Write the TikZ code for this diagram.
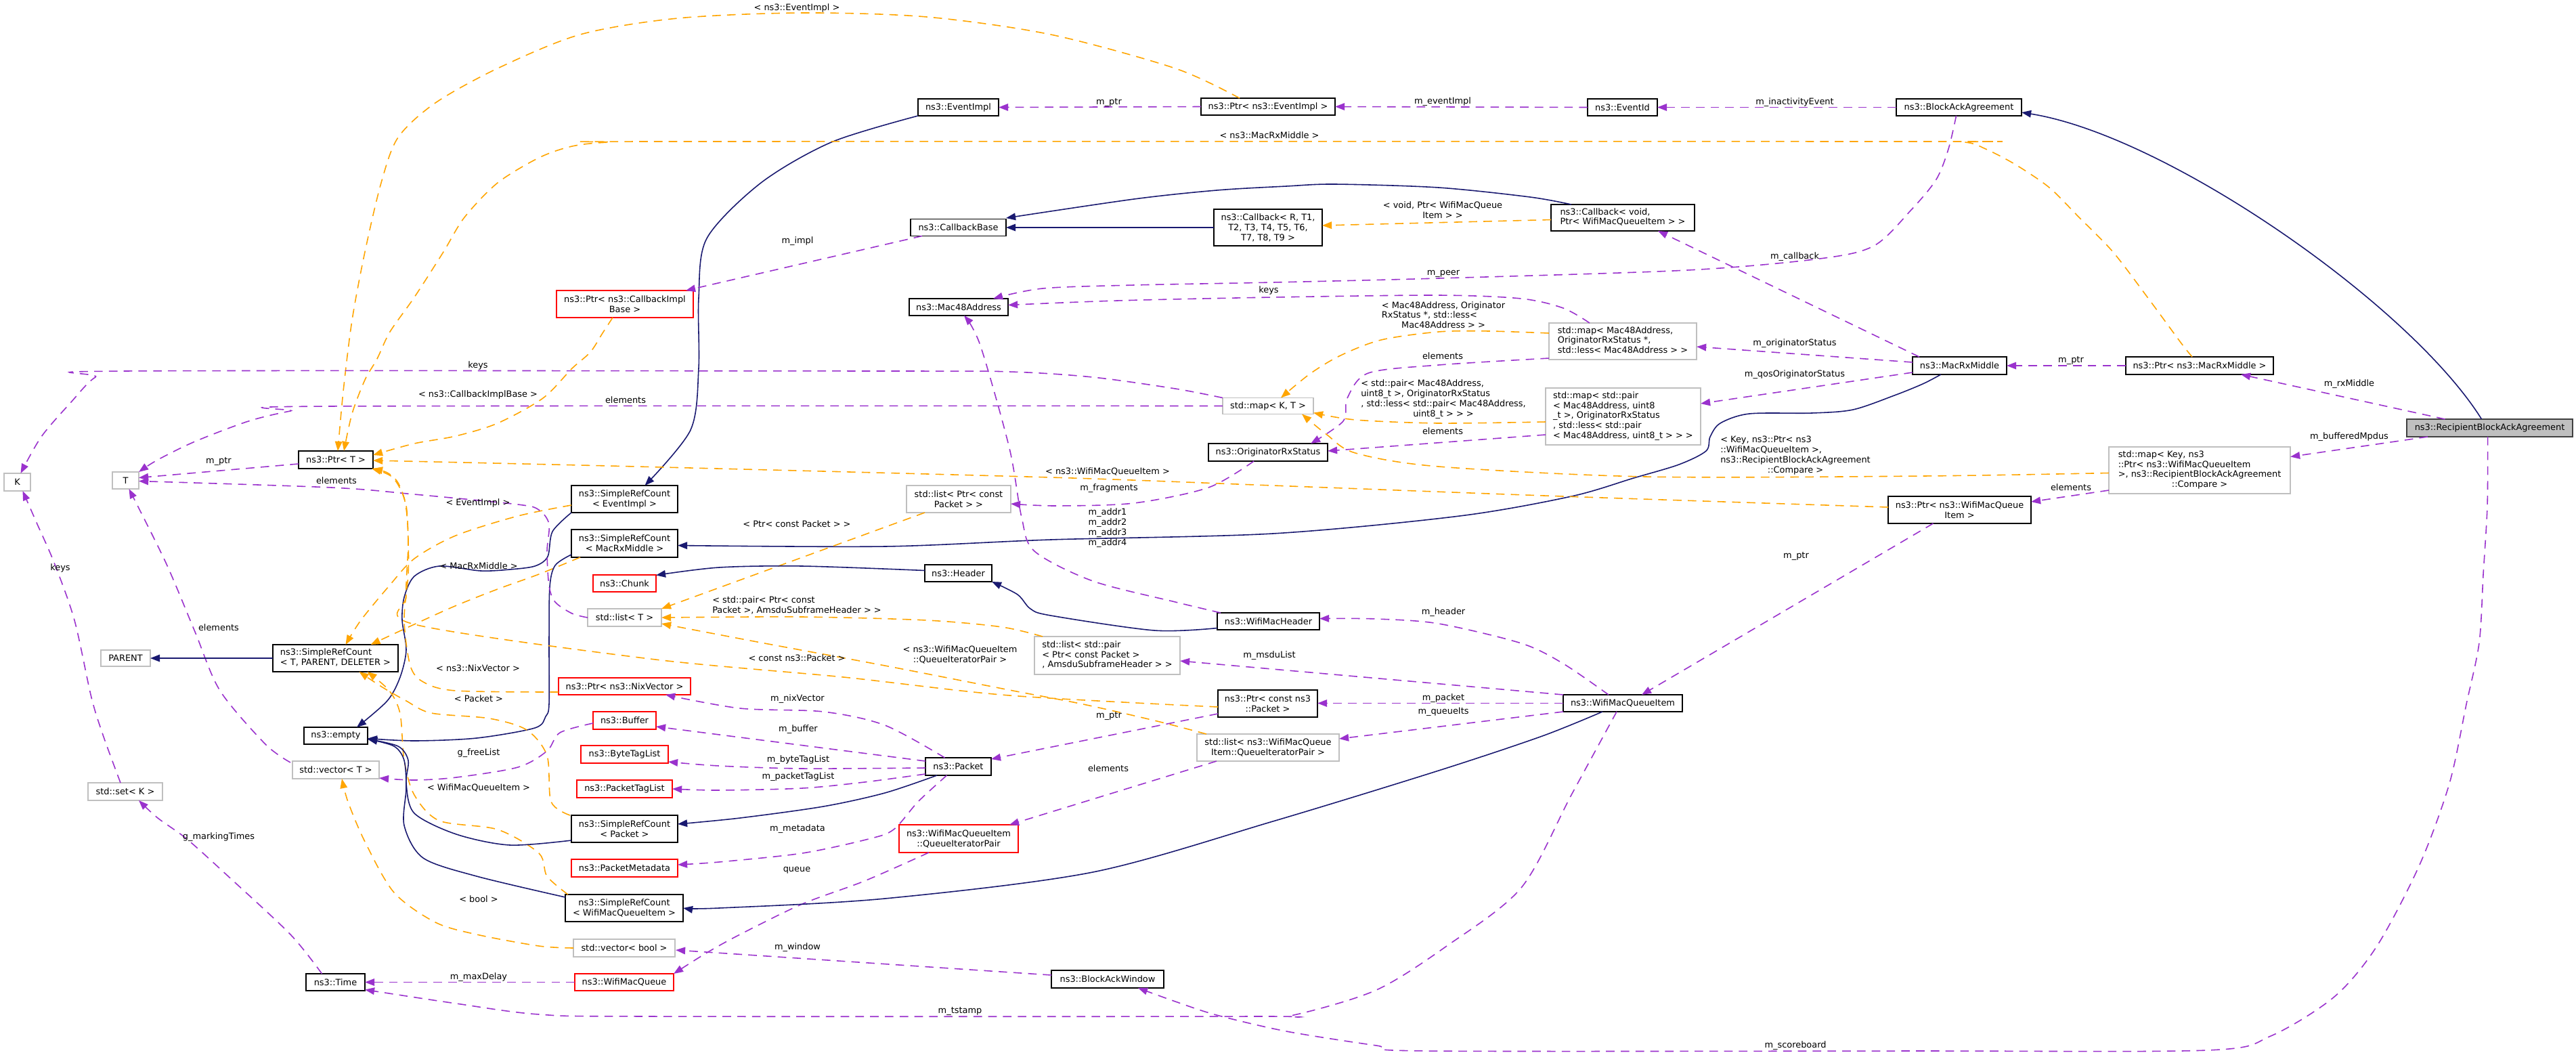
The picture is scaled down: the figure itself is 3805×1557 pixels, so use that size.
\documentclass[tikz,border=0pt]{standalone}
\usepackage{fontspec}
\setmainfont{DejaVu Sans}
\usetikzlibrary{arrows.meta,calc}
\definecolor{inhc}{HTML}{191970}
\definecolor{usec}{HTML}{9A32CD}
\definecolor{tplc}{HTML}{FFA500}
\definecolor{grayb}{HTML}{BFBFBF}
\definecolor{darkb}{HTML}{404040}
\definecolor{redb}{HTML}{FF0000}
\newcommand\ml[2]{\begin{tabular}{@{}l@{}}#1\\\multicolumn{1}{@{}c@{}}{#2}\end{tabular}}
\begin{document}
\begin{tikzpicture}[x=0.01cm,y=-0.01cm,font=\fontsize{3.67pt}{4.25pt}\selectfont,
  box/.style={draw,line width=0.5pt,inner sep=0pt,outer sep=0pt,fill=white,align=center},
  bk/.style={box,draw=black},
  rd/.style={box,draw=redb},
  gy/.style={box,draw=grayb},
  lab/.style={inner sep=0pt,align=center},
  edge/.style={line width=0.45pt,-{Triangle[length=4pt,width=3pt]}},
  inh/.style={edge,draw=inhc},
  use/.style={edge,draw=usec,dash pattern=on 3.6pt off 2.6pt},
  tpl/.style={edge,draw=tplc,dash pattern=on 3.6pt off 2.6pt}]
\fill[white] (0,0) rectangle (3805,1557);
\useasboundingbox (0,0) rectangle (3805,1557);
% ---------- nodes ----------
\node[bk,minimum width=1.19cm,minimum height=0.25cm] (eventimpl) at (1415.5,158.5) {ns3::EventImpl};
\node[bk,minimum width=1.98cm,minimum height=0.25cm] (ptrevent) at (1873,157.5) {ns3::Ptr< ns3::EventImpl >};
\node[bk,minimum width=1.03cm,minimum height=0.25cm] (eventid) at (2396.5,158.5) {ns3::EventId};
\node[bk,minimum width=1.85cm,minimum height=0.25cm] (baa) at (2893.5,158.5) {ns3::BlockAckAgreement};
\node[bk,minimum width=1.41cm,minimum height=0.25cm] (callbackbase) at (1415.5,336) {ns3::CallbackBase};
\node[bk,minimum width=1.60cm,minimum height=0.54cm] (callbackR) at (1873,336) {ns3::Callback< R, T1,\\T2, T3, T4, T5, T6,\\T7, T8, T9 >};
\node[bk,minimum width=2.12cm,minimum height=0.39cm] (callbackvoid) at (2397,321.5) {\ml{ns3::Callback< void,}{ Ptr< WifiMacQueueItem > >}};
\node[rd,minimum width=2.02cm,minimum height=0.40cm] (cbimplptr) at (923,449) {ns3::Ptr< ns3::CallbackImpl\\Base >};
\node[bk,minimum width=1.46cm,minimum height=0.25cm] (mac48) at (1416,453.5) {ns3::Mac48Address};
\node[gy,minimum width=2.18cm,minimum height=0.54cm] (mapmac) at (2397,504) {\ml{std::map< Mac48Address,\\ OriginatorRxStatus *,}{ std::less< Mac48Address > >}};
\node[bk,minimum width=1.39cm,minimum height=0.26cm] (macrx) at (2894.5,540) {ns3::MacRxMiddle};
\node[bk,minimum width=2.18cm,minimum height=0.26cm] (ptrmacrx) at (3249,540) {ns3::Ptr< ns3::MacRxMiddle >};
\node[box,draw=darkb,fill=grayb,minimum width=2.45cm,minimum height=0.26cm] (rbaa) at (3677.5,632) {ns3::RecipientBlockAckAgreement};
\node[gy,minimum width=1.34cm,minimum height=0.24cm] (mapkt) at (1873,599.5) {std::map< K, T >};
\node[gy,minimum width=2.29cm,minimum height=0.84cm] (mappair) at (2397.5,615) {\ml{std::map< std::pair\\< Mac48Address, uint8\\\_t >, OriginatorRxStatus\\ *, std::less< std::pair}{< Mac48Address, uint8\_t > > >}};
\node[bk,minimum width=1.76cm,minimum height=0.26cm] (orsx) at (1873,668) {ns3::OriginatorRxStatus};
\node[gy,minimum width=2.68cm,minimum height=0.69cm] (mapkey) at (3249,694.5) {\ml{std::map< Key, ns3\\::Ptr< ns3::WifiMacQueueItem\\ >, ns3::RecipientBlockAckAgreement}{::Compare >}};
\node[bk,minimum width=2.11cm,minimum height=0.40cm] (ptrwmqi) at (2894.5,753) {ns3::Ptr< ns3::WifiMacQueue\\Item >};
\node[bk,minimum width=1.10cm,minimum height=0.26cm] (ptrT) at (496,679) {ns3::Ptr< T >};
\node[gy,minimum width=0.39cm,minimum height=0.26cm] (K) at (25.5,712) {K};
\node[gy,minimum width=0.39cm,minimum height=0.25cm] (T) at (185.5,709.5) {T};
\node[bk,minimum width=1.57cm,minimum height=0.40cm] (srcevent) at (922.5,737) {ns3::SimpleRefCount\\< EventImpl >};
\node[bk,minimum width=1.57cm,minimum height=0.41cm] (srcmacrx) at (922.5,802.5) {ns3::SimpleRefCount\\< MacRxMiddle >};
\node[rd,minimum width=0.93cm,minimum height=0.25cm] (chunk) at (922.5,861.5) {ns3::Chunk};
\node[gy,minimum width=1.09cm,minimum height=0.26cm] (listT) at (922.5,912) {std::list< T >};
\node[gy,minimum width=1.54cm,minimum height=0.40cm] (listptr) at (1416,737) {std::list< Ptr< const\\Packet > >};
\node[bk,minimum width=0.99cm,minimum height=0.25cm] (header) at (1415.5,846.5) {ns3::Header};
\node[bk,minimum width=1.51cm,minimum height=0.25cm] (wmh) at (1873.5,917.5) {ns3::WifiMacHeader};
\node[gy,minimum width=2.15cm,minimum height=0.56cm] (listpair) at (1635.5,968) {\ml{std::list< std::pair\\< Ptr< const Packet >}{, AmsduSubframeHeader > >}};
\node[bk,minimum width=1.47cm,minimum height=0.40cm] (ptrcpkt) at (1872.5,1039) {ns3::Ptr< const ns3\\::Packet >};
\node[bk,minimum width=1.76cm,minimum height=0.25cm] (wmqi) at (2397,1038.5) {ns3::WifiMacQueueItem};
\node[bk,minimum width=1.85cm,minimum height=0.40cm] (srcTPD) at (495.5,972) {\ml{ns3::SimpleRefCount}{< T, PARENT, DELETER >}};
\node[gy,minimum width=0.73cm,minimum height=0.24cm] (parent) at (185.5,972) {PARENT};
\node[rd,minimum width=1.95cm,minimum height=0.25cm] (ptrnix) at (922.5,1013.5) {ns3::Ptr< ns3::NixVector >};
\node[bk,minimum width=0.94cm,minimum height=0.25cm] (empty) at (496,1086.5) {ns3::empty};
\node[gy,minimum width=1.28cm,minimum height=0.26cm] (vecT) at (496,1137) {std::vector< T >};
\node[gy,minimum width=1.10cm,minimum height=0.26cm] (setK) at (185,1169) {std::set< K >};
\node[rd,minimum width=0.93cm,minimum height=0.26cm] (buffer) at (922.5,1064) {ns3::Buffer};
\node[rd,minimum width=1.29cm,minimum height=0.26cm] (bytetag) at (922.5,1114) {ns3::ByteTagList};
\node[rd,minimum width=1.41cm,minimum height=0.26cm] (pkttag) at (922.5,1165) {ns3::PacketTagList};
\node[bk,minimum width=1.57cm,minimum height=0.40cm] (srcpkt) at (922.5,1224) {ns3::SimpleRefCount\\< Packet >};
\node[rd,minimum width=1.57cm,minimum height=0.26cm] (pktmeta) at (922.5,1282) {ns3::PacketMetadata};
\node[bk,minimum width=1.74cm,minimum height=0.40cm] (srcwmqi) at (922,1341) {ns3::SimpleRefCount\\< WifiMacQueueItem >};
\node[gy,minimum width=1.50cm,minimum height=0.26cm] (vecbool) at (922,1400) {std::vector< bool >};
\node[bk,minimum width=0.87cm,minimum height=0.25cm] (time) at (495.5,1450.5) {ns3::Time};
\node[rd,minimum width=1.46cm,minimum height=0.25cm] (wmq) at (922,1450.5) {ns3::WifiMacQueue};
\node[bk,minimum width=0.97cm,minimum height=0.26cm] (packet) at (1415.5,1132) {ns3::Packet};
\node[gy,minimum width=2.10cm,minimum height=0.40cm] (listqip) at (1873,1104) {std::list< ns3::WifiMacQueue\\Item::QueueIteratorPair >};
\node[rd,minimum width=1.76cm,minimum height=0.41cm] (qip) at (1416,1238.5) {ns3::WifiMacQueueItem\\::QueueIteratorPair};
\node[bk,minimum width=1.66cm,minimum height=0.26cm] (baw) at (1636,1446) {ns3::BlockAckWindow};
% ---------- edge end points ----------
\coordinate (s5) at ($(ptrevent.north)+(-42,0)$); \coordinate (t5) at ($(ptrT.north)+(3,0)$);
\coordinate (s6) at (eventimpl.south west); \coordinate (t6) at ($(srcevent.north)+(30,0)$);
\coordinate (s7) at ($(srcevent.west)+(0,9)$); \coordinate (t7) at ($(srcTPD.north)+(15,0)$);
\coordinate (s8) at (srcevent.south west); \coordinate (t8) at ($(empty.north)+(31,0)$);
\coordinate (s9) at ($(srcmacrx.south west)+(13,0)$); \coordinate (t9) at ($(srcTPD.north)+(52,0)$);
\coordinate (s10) at ($(srcmacrx.south west)+(0,-4)$); \coordinate (t10) at ($(empty.east)+(0,4)$);
\coordinate (s11) at ($(macrx.south west)+(42,0)$); \coordinate (t11) at ($(srcmacrx.east)+(0,3)$);
\coordinate (s19) at ($(ptrmacrx.north)+(-11,0)$); \coordinate (t19) at ($(ptrT.north)+(12,0)$);
\coordinate (s20) at ($(cbimplptr.south)+(-18,0)$); \coordinate (t20) at ($(ptrT.east)+(0,-7)$);
\coordinate (s23) at ($(callbackvoid.north west)+(30,0)$); \coordinate (t23) at ($(callbackbase.east)+(0,-14)$);
\coordinate (s25) at ($(mapmac.north)+(-49,0)$); \coordinate (t25) at ($(mac48.east)+(0,-3)$);
\coordinate (s26) at ($(baa.south)+(-4,0)$); \coordinate (t26) at ($(mac48.north east)+(-22,0)$);
\coordinate (s27) at ($(mapmac.west)+(0,-12)$); \coordinate (t27) at ($(mapkt.north)+(19,0)$);
\coordinate (s28) at ($(mapmac.south west)+(0,-2)$); \coordinate (t28) at ($(orsx.north east)+(-25,0)$);
\coordinate (s29) at ($(mappair.west)+(0,8)$); \coordinate (t29) at ($(mapkt.east)+(0,10)$);
\coordinate (t31) at ($(K.north)+(5,0)$);
\coordinate (t34) at ($(T.east)+(0,1)$);
\coordinate (s35) at ($(vecT.north west)+(-3,2)$); \coordinate (t35) at ($(T.south)+(5,0)$);
\coordinate (s36) at ($(setK.north)+(-7,0)$); \coordinate (t36) at ($(K.south)+(8,0)$);
\coordinate (s38) at ($(time.north)+(-20,0)$); \coordinate (t38) at ($(setK.south)+(20,0)$);
\coordinate (s39) at ($(srcpkt.north west)+(-2,0)$); \coordinate (t39) at ($(srcTPD.south)+(35,0)$);
\coordinate (s40) at ($(srcwmqi.north west)+(4,0)$); \coordinate (t40) at ($(srcTPD.south)+(47,0)$);
\coordinate (s41) at ($(srcpkt.south west)+(0,-3)$); \coordinate (t41) at ($(empty.east)+(0,5)$);
\coordinate (s42) at ($(srcwmqi.west)+(0,-16)$);
\coordinate (t43) at ($(vecT.south)+(9,0)$);
\coordinate (s44) at ($(ptrnix.west)+(0,8.5)$);
\coordinate (s45) at ($(ptrcpkt.west)+(0,5)$); \coordinate (t45) at ($(ptrT.south east)+(-2,0)$);
\coordinate (s46) at ($(ptrwmqi.west)+(0,-4)$); \coordinate (t46) at ($(ptrT.east)+(0,1)$);
\coordinate (s48) at ($(listpair.north west)+(12,0)$);
\coordinate (s49) at ($(listqip.north west)+(14,0)$); \coordinate (t49) at ($(listT.east)+(0,9)$);
\coordinate (s50) at ($(orsx.south)+(-21,0)$); \coordinate (t50) at ($(listptr.east)+(0,7)$);
\coordinate (s51) at ($(wmh.north west)+(5,0)$); \coordinate (t51) at ($(mac48.south)+(8,0)$);
\coordinate (s52) at ($(wmh.west)+(0,10)$);
\coordinate (s53) at ($(header.west)+(0,-4)$); \coordinate (t53) at ($(chunk.east)+(0,-12)$);
\coordinate (s54) at ($(wmqi.north)+(-21,0)$); \coordinate (t54) at ($(wmh.east)+(0,-4)$);
\coordinate (s61) at ($(packet.north)+(-20,0)$); \coordinate (t61) at ($(ptrnix.south east)+(-37,0)$);
\coordinate (s63) at ($(packet.west)+(0,2)$); \coordinate (t63) at ($(bytetag.east)+(0,11)$);
\coordinate (s64) at ($(packet.west)+(0,11)$);
\coordinate (s65) at ($(packet.south west)+(17,0)$); \coordinate (t65) at ($(srcpkt.east)+(0,-7)$);
\coordinate (s66) at ($(packet.south)+(-17,0)$); \coordinate (t66) at ($(pktmeta.east)+(0,-5)$);
\coordinate (s67) at ($(qip.south)+(-44,0)$);
\coordinate (s68) at ($(wmqi.south)+(-30,0)$);
\coordinate (s69) at ($(wmqi.south)+(-9,0)$); \coordinate (t69) at ($(time.east)+(0,11)$);
\coordinate (s72) at ($(rbaa.south)+(-3,0)$); \coordinate (t72) at ($(baw.south)+(45,0)$);
\coordinate (s73) at ($(mapkey.west)+(0,4)$); \coordinate (t73) at ($(mapkt.south east)+(-17,0)$);
\coordinate (s74) at ($(buffer.west)+(0,4)$); \coordinate (t74) at ($(vecT.east)+(0,12)$);
% ---------- edges ----------
\draw[inh] ($(rbaa.north)+(-12,0)$) .. controls (3560,450) and (3200,200) .. ($(baa.east)+(0,7.5)$);
\draw[use] (baa.west) -- (eventid.east);
\draw[use] (eventid.west) -- (ptrevent.east);
\draw[use] (ptrevent.west) -- (eventimpl.east);
\draw[tpl] plot[smooth] coordinates {(s5) (1736,101) (1552,51) (1369,25) (1185,19) (1001,27) (857,51) (735,101) (643,152) (588,203) (563,270) (539,372) (520,473) (507,578) (t5)};
\draw[inh] plot[smooth] coordinates {(s6) (1228,210) (1124,270) (1044,352) (1032,440) (1032,544) (1020,635) (t6)};
\draw[tpl] plot[smooth] coordinates {(s7) (765,762) (673,791) (612,825) (575,865) (533,916) (t7)};
\draw[inh] plot[smooth] coordinates {(s8) (816,785) (809,822) (790,836) (753,841) (710,843) (649,836) (612,851) (597,882) (594,916) (600,960) (591,1000) (572,1035) (t8)};
\draw[tpl] plot[smooth] coordinates {(s9) (796,848) (735,870) (672,895) (612,922) (t9)};
\draw[inh] plot[smooth] coordinates {(s10) (820,835) (812,867) (811,950) (811,1040) (806,1058) (790,1075) (704,1090) (612,1094) (t10)};
\draw[inh] plot[smooth] coordinates {(s11) (2840,567) (2798,584) (2737,605) (2676,610) (2584,611) (2541,625) (2526,645) (2520,666) (2480,686) (2413,706) (2321,733) (2156,762) (1880,788) (1552,797) (1307,807) (t11)};
\draw[use] ($(macrx.north west)+(10,0)$) -- ($(callbackvoid.south)+(52,0)$);
\draw[use] ($(macrx.west)+(0,-5)$) -- ($(mapmac.east)+(0,8)$);
\draw[use] ($(macrx.west)+(0,10)$) -- ($(mappair.east)+(0,-19)$);
\draw[use] (ptrmacrx.west) -- (macrx.east);
\draw[use] ($(rbaa.north)+(-66,0)$) -- ($(ptrmacrx.south)+(61,0)$);
\draw[use] ($(rbaa.south west)+(31,0)$) -- ($(mapkey.east)+(0,-20)$);
\draw[use] ($(mapkey.west)+(0,29.5)$) -- ($(ptrwmqi.east)+(0,-12)$);
\draw[tpl] plot[smooth] coordinates {(s19) (3222,507) (3172,439) (3121,372) (3071,321) (3027,277) (2977,243) (2933,220) (2902,210) (2820,209) (1000,209) (900,210) (845,216) (796,233) (735,270) (686,321) (655,372) (612,439) (576,490) (557,530) (539,561) (520,611) (t19)};
\draw[tpl] plot[smooth] coordinates {(s20) (890,492) (872,520) (845,544) (802,588) (735,625) (673,644) (612,655) (t20)};
\draw[use] ($(callbackbase.south west)+(17,0)$) -- ($(cbimplptr.north east)+(-11,0)$);
\draw[inh] (callbackR.west) -- (callbackbase.east);
\draw[inh] plot[smooth] coordinates {(s23) (2260,291) (2125,277) (1972,272) (1900,275) (1797,281) (1675,294) (t23)};
\draw[tpl] ($(callbackvoid.west)+(0,3)$) -- ($(callbackR.east)+(0,-3)$);
\draw[use] plot[smooth] coordinates {(s25) (2309,455) (2247,441) (2125,436) (1880,439) (1650,444) (t25)};
\draw[use] plot[smooth] coordinates {(s26) (2878,220) (2860,265) (2823,310) (2768,363) (2688,382) (2492,399) (2125,411) (1880,417) (1675,421) (1540,426) (t26)};
\draw[tpl] plot[smooth] coordinates {(s27) (2200,489) (2125,490) (2040,502) (1980,525) (1935,552) (t27)};
\draw[use] plot[smooth] coordinates {(s28) (2125,539) (2021,551) (1990,588) (1984,622) (t28)};
\draw[tpl] plot[smooth] coordinates {(s29) (2125,625) (2002,620) (t29)};
\draw[use] ($(mappair.west)+(0,27)$) -- ($(orsx.east)+(0,-2)$);
\draw[use] plot[smooth] coordinates {(mapkt.north west) (1736,574) (1614,557) (1491,549) (1307,548) (184,548) (141,557) (104,595) (61,645) (t31)};
\draw[use] plot[smooth] coordinates {(mapkt.west) (484,600) (429,607) (367,622) (288,652) (233,679) (T.north east)};
\draw[use] ($(ptrT.west)+(0,6)$) -- ($(T.east)+(0,-4)$);
\draw[use] plot[smooth] coordinates {(listT.west) (845,906) (820,889) (811,865) (808,814) (811,774) (796,753) (765,745) (612,730) (490,720) (t34)};
\draw[use] plot[smooth] coordinates {(s35) (392,1099) (325,1020) (288,933) (245,831) (t35)};
\draw[use] plot[smooth] coordinates {(s36) (153,1088) (135,1030) (110,916) (80,831) (55,774) (t36)};
\draw[inh] (srcTPD.west) -- (parent.east);
\draw[use] plot[smooth] coordinates {(s38) (429,1380) (337,1294) (276,1239) (233,1208) (t38)};
\draw[tpl] plot[smooth] coordinates {(s39) (814,1184) (808,1116) (778,1078) (723,1061) (637,1053) (600,1035) (565,1015) (t39)};
\draw[tpl] plot[smooth] coordinates {(s40) (808,1294) (796,1260) (735,1225) (649,1212) (612,1174) (597,1123) (591,1054) (575,1020) (t40)};
\draw[inh] plot[smooth] coordinates {(s41) (753,1248) (674,1232) (612,1201) (600,1157) (603,1123) (588,1102) (t41)};
\draw[inh] plot[smooth] coordinates {(s42) (704,1294) (625,1267) (597,1219) (600,1164) (597,1123) (582,1102) (t41)};
\draw[tpl] plot[smooth] coordinates {(vecbool.west) (796,1397) (704,1380) (643,1362) (582,1318) (539,1243) (514,1184) (t43)};
\draw[tpl] plot[smooth] coordinates {(s44) (673,1020) (625,1007) (606,983) (597,916) (603,848) (603,797) (600,747) (588,713) (572,698) (ptrT.south east)};
\draw[tpl] plot[smooth] coordinates {(s45) (1491,1027) (1246,1000) (960,973) (612,922) (600,880) (603,800) (598,740) (580,705) (t45)};
\draw[tpl] plot[smooth] coordinates {(s46) (2309,733) (1880,717) (1552,705) (940,689) (t46)};
\draw[tpl] ($(listptr.south west)+(27,0)$) -- (listT.north east);
\draw[tpl] plot[smooth] coordinates {(s48) (1480,926) (1369,916) (1185,911) (listT.east)};
\draw[tpl] plot[smooth] coordinates {(s49) (1705,1064) (1600,1040) (1491,1019) (1307,983) (1124,949) (t49)};
\draw[use] plot[smooth] coordinates {(s50) (1785,720) (1675,743) (1560,747) (t50)};
\draw[use] plot[smooth] coordinates {(s51) (1736,889) (1614,858) (1528,814) (1509,764) (1491,662) (1448,510) (t51)};
\draw[inh] plot[smooth] coordinates {(s52) (1705,931) (1552,909) (1522,899) (1503,878) (header.south east)};
\draw[inh] plot[smooth] coordinates {(s53) (1185,836) (1062,838) (t53)};
\draw[use] plot[smooth] coordinates {(s54) (2309,980) (2247,950) (2125,921) (2033,914) (t54)};
\draw[use] (wmqi.north west) -- ($(listpair.east)+(0,8)$);
\draw[use] ($(ptrwmqi.south)+(-39,0)$) -- ($(wmqi.north)+(28,0)$);
\draw[use] (wmqi.west) -- ($(ptrcpkt.east)+(0,-0.5)$);
\draw[use] (wmqi.south west) -- ($(listqip.east)+(0,-13)$);
\draw[use] ($(ptrcpkt.south west)+(0,-5)$) -- ($(packet.north east)+(0,2)$);
\draw[use] ($(listqip.south west)+(29,0)$) -- ($(qip.north east)+(-13,0)$);
\draw[use] plot[smooth] coordinates {(s61) (1307,1071) (1216,1051) (1093,1046) (t61)};
\draw[use] ($(packet.west)+(0,-8)$) -- ($(buffer.east)+(0,9)$);
\draw[use] plot[smooth] coordinates {(s63) (1185,1135) (1062,1131) (t63)};
\draw[use] plot[smooth] coordinates {(s64) (1277,1155) (1185,1164) (1062,1167) (pkttag.east)};
\draw[inh] plot[smooth] coordinates {(s65) (1307,1171) (1216,1191) (1093,1208) (t65)};
\draw[use] plot[smooth] coordinates {(s66) (1356,1184) (1320,1225) (1283,1239) (1185,1260) (1062,1273) (t66)};
\draw[use] plot[smooth] coordinates {(s67) (1277,1301) (1185,1335) (1093,1380) (1044,1407) (wmq.north east)};
\draw[inh] plot[smooth] coordinates {(s68) (2278,1087) (2125,1138) (1880,1213) (1614,1288) (1307,1327) (1062,1341) (srcwmqi.east)};
\draw[use] plot[smooth] coordinates {(s69) (2321,1174) (2247,1311) (2137,1397) (2033,1462) (1911,1499) (1850,1501) (960,1501) (796,1498) (674,1482) (t69)};
\draw[use] (wmq.west) -- (time.east);
\draw[use] ($(baw.west)+(0,-6)$) -- ($(vecbool.east)+(1,3)$);
\draw[use] plot[smooth] coordinates {(s72) (3674,747) (3668,848) (3662,949) (3643,1040) (3618,1157) (3574,1277) (3511,1397) (3448,1472) (3354,1530) (3260,1551) (2820,1552) (2107,1552) (2033,1544) (1900,1523) (1797,1499) (1736,1479) (t72)};
\draw[tpl] plot[smooth] coordinates {(s73) (2840,703) (2431,704) (2125,689) (2002,669) (1960,642) (t73)};
\draw[use] plot[smooth] coordinates {(s74) (827,1082) (808,1109) (765,1133) (674,1148) (612,1152) (t74)};
% ---------- labels ----------
\node[lab] (l1) at (1177,12) {< ns3::EventImpl >};
\node[lab] (l2) at (1638,151) {m\_ptr};
\node[lab] (l3) at (2131,150) {m\_eventImpl};
\node[lab] (l4) at (2651,151) {m\_inactivityEvent};
\node[lab] (l5) at (1875,200) {< ns3::MacRxMiddle >};
\node[lab] (l6) at (2131,310) {< void, Ptr< WifiMacQueue\\Item > >};
\node[lab] (l7) at (1178,356) {m\_impl};
\node[lab] (l8) at (2651,379) {m\_callback};
\node[lab] (l9) at (2132,404) {m\_peer};
\node[lab] (l10) at (1874,429) {keys};
\node[lab] (l11) at (2132,467) {\ml{< Mac48Address, Originator\\RxStatus *, std::less<}{Mac48Address > >}};
\node[lab] (l12) at (2651,507) {m\_originatorStatus};
\node[lab] (l13) at (2131,526) {elements};
\node[lab] (l14) at (3059,532) {m\_ptr};
\node[lab] (l15) at (706,540) {keys};
\node[lab] (l16) at (2651,553) {m\_qosOriginatorStatus};
\node[lab] (l17) at (3470,567) {m\_rxMiddle};
\node[lab] (l18) at (706,583) {< ns3::CallbackImplBase >};
\node[lab] (l19) at (924,591) {elements};
\node[lab] (l20) at (2132,590) {\ml{< std::pair< Mac48Address,\\uint8\_t >, OriginatorRxStatus\\*, std::less< std::pair< Mac48Address,}{uint8\_t > > >}};
\node[lab] (l21) at (2131,637) {elements};
\node[lab] (l22) at (3470,645) {m\_bufferedMpdus};
\node[lab] (l23) at (2652,673) {\ml{< Key, ns3::Ptr< ns3\\::WifiMacQueueItem >,\\ns3::RecipientBlockAckAgreement}{::Compare >}};
\node[lab] (l24) at (323,681) {m\_ptr};
\node[lab] (l25) at (1636,696) {< ns3::WifiMacQueueItem >};
\node[lab] (l26) at (497,710) {elements};
\node[lab] (l27) at (3059,720) {elements};
\node[lab] (l28) at (1638,721) {m\_fragments};
\node[lab] (l29) at (706,743) {< EventImpl >};
\node[lab] (l30) at (1177,774) {< Ptr< const Packet > >};
\node[lab] (l31) at (1636,780) {m\_addr1\\m\_addr2\\m\_addr3\\m\_addr4};
\node[lab] (l32) at (2653,821) {m\_ptr};
\node[lab] (l33) at (707,836) {< MacRxMiddle >};
\node[lab] (l34) at (89,839) {keys};
\node[lab] (l35) at (1177,895) {\ml{< std::pair< Ptr< const}{Packet >, AmsduSubframeHeader > >}};
\node[lab] (l36) at (2132,904) {m\_header};
\node[lab] (l37) at (323,927) {elements};
\node[lab] (l38) at (1418,967) {< ns3::WifiMacQueueItem\\::QueueIteratorPair >};
\node[lab] (l39) at (1875,968) {m\_msduList};
\node[lab] (l40) at (1177,972) {< const ns3::Packet >};
\node[lab] (l41) at (706,987) {< ns3::NixVector >};
\node[lab] (l42) at (2132,1031) {m\_packet};
\node[lab] (l43) at (1178,1032) {m\_nixVector};
\node[lab] (l44) at (707,1032) {< Packet >};
\node[lab] (l45) at (2132,1051) {m\_queueIts};
\node[lab] (l46) at (1638,1057) {m\_ptr};
\node[lab] (l47) at (1179,1077) {m\_buffer};
\node[lab] (l48) at (707,1112) {g\_freeList};
\node[lab] (l49) at (1179,1122) {m\_byteTagList};
\node[lab] (l50) at (1637,1135) {elements};
\node[lab] (l51) at (1179,1147) {m\_packetTagList};
\node[lab] (l52) at (707,1163) {< WifiMacQueueItem >};
\node[lab] (l53) at (1178,1224) {m\_metadata};
\node[lab] (l54) at (323,1236) {g\_markingTimes};
\node[lab] (l55) at (1177,1285) {queue};
\node[lab] (l56) at (707,1328) {< bool >};
\node[lab] (l57) at (1178,1399) {m\_window};
\node[lab] (l58) at (707,1443) {m\_maxDelay};
\node[lab] (l59) at (1418,1493) {m\_tstamp};
\node[lab] (l60) at (2652,1544) {m\_scoreboard};
\end{tikzpicture}
\end{document}
